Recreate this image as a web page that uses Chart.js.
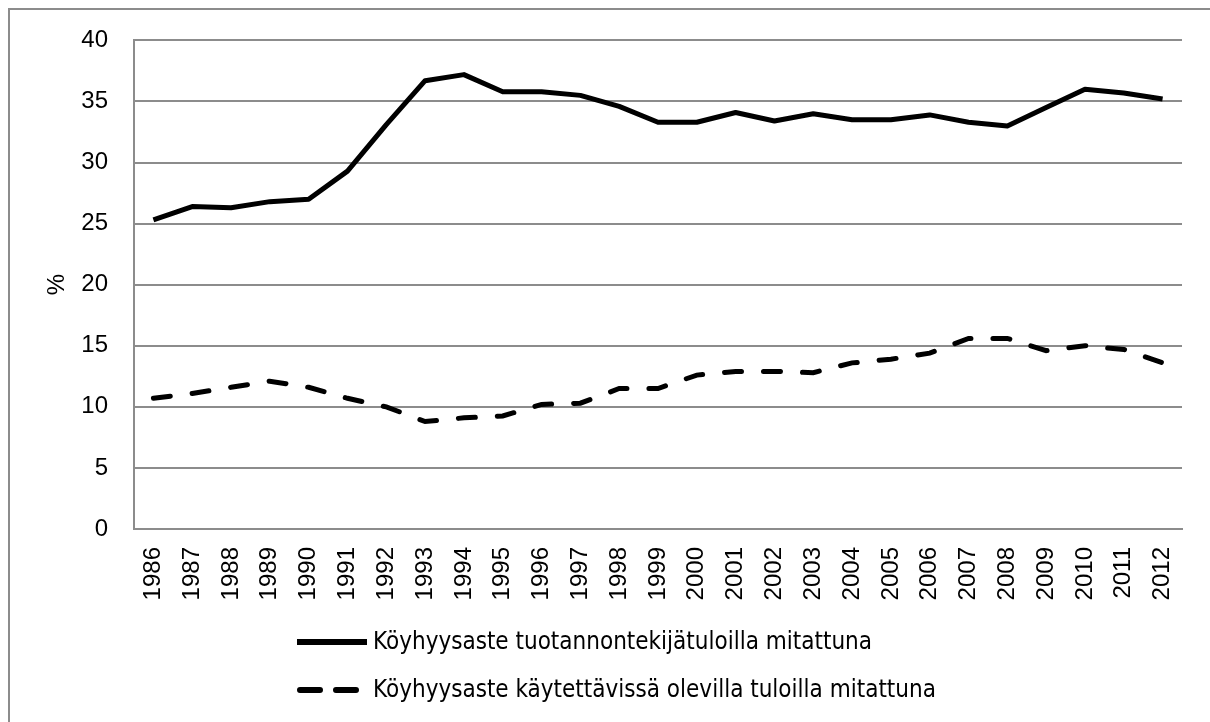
<!DOCTYPE html>
<html>
<head>
<meta charset="utf-8">
<script src="https://cdn.jsdelivr.net/npm/chart.js@4.4.1/dist/chart.umd.min.js"></script>
<style>
  html, body { margin: 0; padding: 0; background: #fff; overflow: hidden; }
  #wrap { position: relative; width: 1210px; height: 722px; overflow: hidden; }
  #frame { position: absolute; left: 8px; top: 8px; width: 1300px; height: 800px; border: 2px solid #8c8c8c; }
  canvas { position: absolute; left: 0; top: 0; }
</style>
</head>
<body>
<div id="wrap">
  <div id="frame"></div>
  <canvas id="povertyChart" width="1210" height="722"></canvas>
</div>
<script>
const years = ["1986", "1987", "1988", "1989", "1990", "1991", "1992", "1993", "1994",
  "1995", "1996", "1997", "1998", "1999", "2000", "2001", "2002", "2003", "2004",
  "2005", "2006", "2007", "2008", "2009", "2010", "2011", "2012"];

// köyhyysaste tuotannontekijätuloilla
const factorIncomeRate = [25.3, 26.4, 26.3, 26.8, 27.0, 29.3, 33.1, 36.7, 37.2,
  35.8, 35.8, 35.5, 34.6, 33.3, 33.3, 34.1, 33.4, 34.0, 33.5,
  33.5, 33.9, 33.3, 33.0, 34.5, 36.0, 35.7, 35.2];

// köyhyysaste käytettävissä olevilla tuloilla
const disposableIncomeRate = [10.7, 11.1, 11.6, 12.1, 11.6, 10.7, 10.0, 8.8, 9.1,
  9.25, 10.2, 10.3, 11.5, 11.5, 12.6, 12.9, 12.9, 12.8, 13.6,
  13.9, 14.4, 15.6, 15.6, 14.6, 15.0, 14.7, 13.6];

const yTicks = [0, 5, 10, 15, 20, 25, 30, 35, 40];

const seriesLabels = [
  "Köyhyysaste tuotannontekijätuloilla mitattuna",
  "Köyhyysaste käytettävissä olevilla tuloilla mitattuna"
];

const gridGray = "#8c8c8c";
const tickFont = { family: "'Liberation Sans', Arial, sans-serif", size: 24 };

const legendPlugin = {
  id: "sideLegend",
  afterDraw(chart) {
    const ctx = chart.ctx;
    ctx.save();
    ctx.font = "24px 'Liberation Sans Narrow', 'DejaVu Sans Condensed', sans-serif";
    ctx.fillStyle = "#000";
    ctx.textBaseline = "middle";
    chart.data.datasets.forEach((ds, i) => {
      const y = 642 + i * 48;
      ctx.beginPath();
      ctx.strokeStyle = ds.borderColor;
      ctx.lineWidth = 6;
      ctx.setLineDash(ds.borderDash ? [20, 16] : []);
      ctx.lineCap = ds.borderDash ? "round" : "butt";
      ctx.moveTo(i ? 300 : 297, y);
      ctx.lineTo(i ? 360 : 367, y);
      ctx.stroke();
      ctx.fillText(ds.label, 373, y + 1);
    });
    ctx.restore();
  }
};

new Chart(document.getElementById("povertyChart"), {
  type: "line",
  data: {
    labels: years,
    datasets: [{
      label: seriesLabels[0],
      data: factorIncomeRate,
      borderColor: "#000",
      borderWidth: 5,
      pointRadius: 0,
      tension: 0,
      borderJoinStyle: "round"
    }, {
      label: seriesLabels[1],
      data: disposableIncomeRate,
      borderColor: "#000",
      borderWidth: 5,
      borderDash: [17, 22],
      borderCapStyle: "round",
      pointRadius: 0,
      tension: 0
    }]
  },
  options: {
    responsive: false,
    animation: false,
    devicePixelRatio: 1,
    layout: { padding: { left: 0, top: 37, right: 28, bottom: 93 } },
    plugins: { legend: { display: false }, tooltip: { enabled: false } },
    scales: {
      x: {
        offset: true,
        grid: { display: false, drawTicks: false },
        border: { display: true, color: gridGray, width: 2 },
        ticks: { color: "#000", font: tickFont, minRotation: 90, maxRotation: 90, padding: 18, autoSkip: false },
        afterFit(scale) { scale.height = 100; }
      },
      y: {
        min: 0,
        max: 40,
        afterBuildTicks(scale) { scale.ticks = yTicks.map(v => ({ value: v })); },
        grid: { color: gridGray, lineWidth: 2, drawTicks: false },
        border: { display: true, color: gridGray, width: 2 },
        ticks: { color: "#000", font: tickFont, padding: 26 },
        title: { display: true, text: "%", color: "#000", font: tickFont, padding: { top: 43, bottom: 0 } },
        afterFit(scale) { scale.width = 134; }
      }
    }
  },
  plugins: [legendPlugin]
});
</script>
</body>
</html>
